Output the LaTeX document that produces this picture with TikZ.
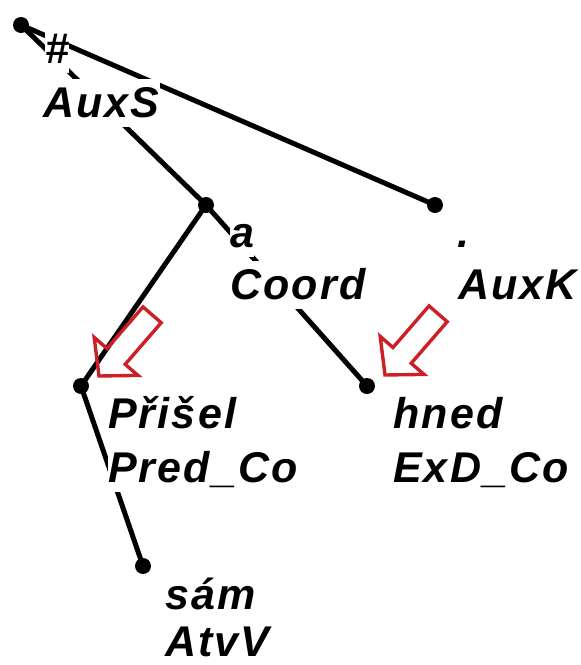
\documentclass[tikz,border=0pt]{standalone}
\usepackage{fontspec}
\setmainfont{Liberation Sans}
\newfontfamily\labfont{Liberation Sans}[LetterSpace=5.0]
\definecolor{arrowred}{RGB}{205,32,38}
\begin{document}
\begin{tikzpicture}[x=1pt,y=-1pt,
  edge/.style={line width=5pt, line cap=round},
  dot/.style={circle, fill=black, inner sep=0pt, minimum size=16pt},
  lab/.style={anchor=base west, inner sep=0pt, fill=white,
    font=\labfont\bfseries\itshape\fontsize{43}{50}\selectfont,
    text height=38pt, text depth=10pt},
  blockarrow/.style={draw=arrowred, line width=3.4pt, line join=miter},
  hollowarrow/.pic={\draw[blockarrow] (0,0) -- (39,-0.6) -- (26.2,-11.7) -- (62.2,-53.3)
      -- (44,-69.1) -- (8,-27.5) -- (-4.8,-38.6) -- cycle;}]
\useasboundingbox[fill=white] (0,0) rectangle (581,665);
% tree nodes
\node[dot] (root) at (21,25) {};
\node[dot] (a) at (206,205) {};
\node[dot] (auxk) at (435,205) {};
\node[dot] (prisel) at (81,386) {};
\node[dot] (hned) at (367,386) {};
\node[dot] (sam) at (143,566) {};
% edges
\draw[edge] (root.center) -- (a.center);
\draw[edge] (root.center) -- (auxk.center);
\draw[edge] (a.center) -- (prisel.center);
\draw[edge] (a.center) -- (hned.center);
\draw[edge] (prisel.center) -- (sam.center);
% labels
\node[lab] (l0a) at (45,63) {\#};
\node[lab] (l0b) at (43,117) {AuxS};
\node[lab] (l1a) at (230,247) {a};
\node[lab] (l1b) at (230,299) {Coord};
\node[lab] (l2a) at (457,247) {.};
\node[lab] (l2b) at (458,299) {AuxK};
\node[lab] (l3a) at (108,428) {Přišel};
\node[lab] (l3b) at (108,482) {Pred\_Co};
\node[lab] (l4a) at (393,428) {hned};
\node[lab] (l4b) at (393,482) {ExD\_Co};
\node[lab] (l5a) at (165,609) {sám};
\node[lab, text depth=2pt] (l5b) at (165,656) {AtvV};
% red hollow arrows
\pic at (99,376) {hollowarrow};
\pic at (385,375) {hollowarrow};
\end{tikzpicture}
\end{document}
